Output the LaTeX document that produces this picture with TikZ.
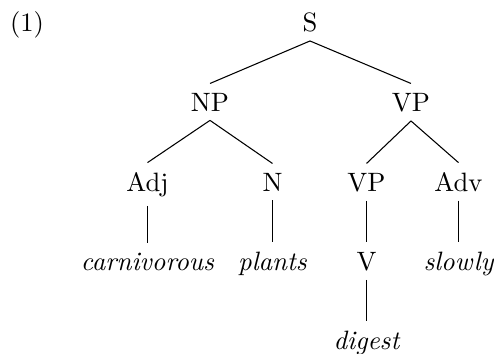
\documentclass[tikz,border=0pt]{standalone}
\begin{document}
\begin{tikzpicture}[x=0.3763pt,y=-0.3763pt,
  lab/.style={anchor=base,inner sep=3.33pt},
  edge/.style={draw=black,line width=0.4pt}]
\useasboundingbox (0,0) rectangle (494,353);
\node[lab] (num) at (27,31) {(1)};
\node[lab] (S) at (310,31) {S};
\node[lab] (NP) at (210,111) {NP};
\node[lab] (VP) at (411,111) {VP};
\node[lab] (Adj) at (147.5,191) {Adj};
\node[lab] (N) at (272.5,191) {N};
\node[lab] (VPb) at (366.5,191) {VP};
\node[lab] (Adv) at (458.5,191) {Adv};
\node[lab] (carn) at (147.5,270) {\itshape carnivorous};
\node[lab] (plants) at (272.5,270) {\itshape plants};
\node[lab] (V) at (366.5,270) {V};
\node[lab] (slowly) at (458.5,270) {\itshape slowly};
\node[lab] (digest) at (366.5,349) {\itshape digest};
\draw[edge] (S.south) -- (NP.north);
\draw[edge] (S.south) -- (VP.north);
\draw[edge] (NP.south) -- (Adj.north);
\draw[edge] (NP.south) -- (N.north);
\draw[edge] (VP.south) -- (VPb.north);
\draw[edge] (VP.south) -- (Adv.north);
\draw[edge] (Adj.south) -- (carn.north);
\draw[edge] (N.south) -- (plants.north);
\draw[edge] (VPb.south) -- (V.north);
\draw[edge] (Adv.south) -- (slowly.north);
\draw[edge] (V.south) -- (digest.north);
\end{tikzpicture}
\end{document}
